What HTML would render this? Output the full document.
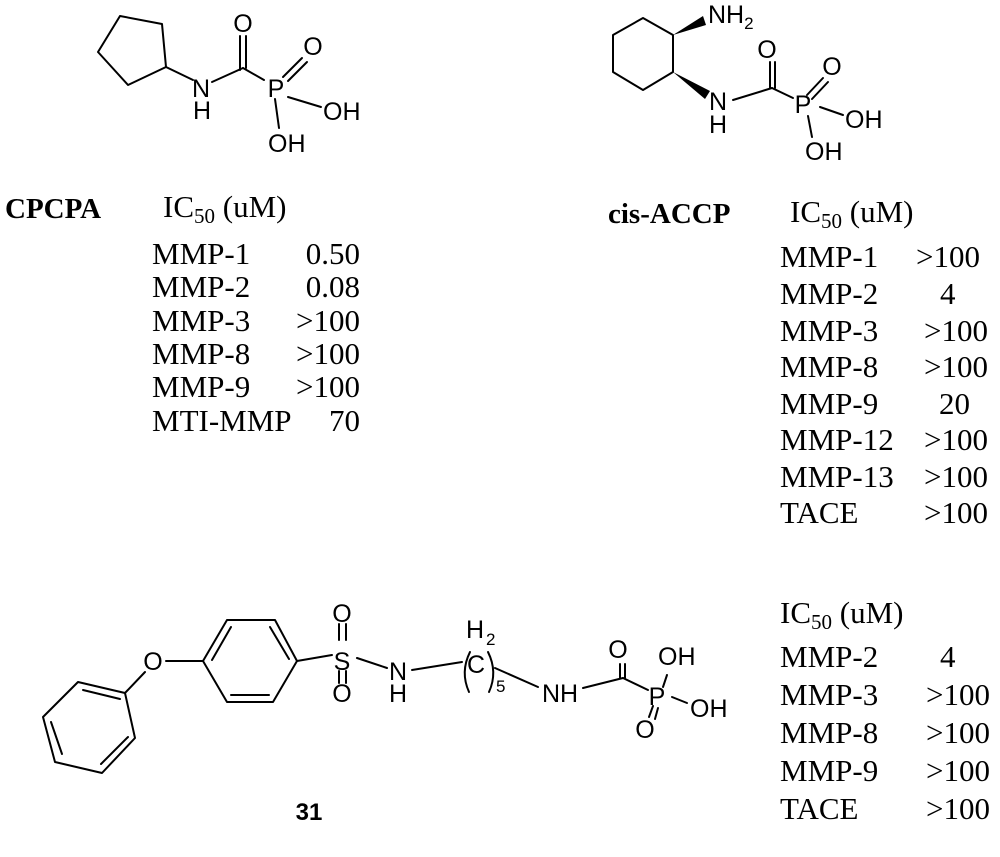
<!DOCTYPE html>
<html><head><meta charset="utf-8"><style>
html,body{margin:0;padding:0;background:#fff;}
svg{display:block;}
.a{font-family:"Liberation Sans",Arial,sans-serif;font-size:25px;fill:#000;}
.t{font-family:"Liberation Serif","Times New Roman",serif;font-size:31px;fill:#000;}
.b{font-family:"Liberation Serif","Times New Roman",serif;font-size:29px;font-weight:bold;fill:#000;}
.s{font-size:21px;}
</style></head><body>
<svg width="1000" height="857" viewBox="0 0 1000 857" xmlns="http://www.w3.org/2000/svg">
<g stroke="#000" stroke-width="2" fill="none" stroke-linecap="round" stroke-linejoin="round">
<!-- CPCPA -->
<polygon points="120,16 162,24 166,67 128,85 98,52"/>
<line x1="166" y1="67" x2="193" y2="80"/>
<line x1="212" y1="82" x2="243" y2="68"/>
<line x1="240" y1="70" x2="240" y2="36"/><line x1="246" y1="68" x2="246" y2="36"/>
<line x1="243" y1="68" x2="264" y2="80"/>
<line x1="283" y1="77" x2="302" y2="58"/><line x1="288" y1="81" x2="307" y2="62"/>
<line x1="288" y1="97" x2="321" y2="107"/>
<line x1="275" y1="99" x2="279" y2="128"/>
<!-- cis-ACCP -->
<polygon points="643,18 673,35 673,72 643,90 613,72 613,35"/>
<line x1="733" y1="100" x2="772" y2="88"/>
<line x1="770" y1="88" x2="770" y2="62"/><line x1="775" y1="88" x2="775" y2="62"/>
<line x1="772" y1="88" x2="793" y2="98"/>
<line x1="807" y1="95" x2="823" y2="78"/><line x1="812" y1="99" x2="828" y2="82"/>
<line x1="820" y1="107" x2="843" y2="115"/>
<line x1="808" y1="116" x2="812" y2="137"/>
<!-- 31 -->
<polygon points="78,682 43,717 55,762 102,773 135,738 125,693"/>
<line x1="83" y1="690" x2="120" y2="699"/>
<line x1="51" y1="722" x2="62" y2="754"/>
<line x1="101" y1="764" x2="128" y2="737"/>
<line x1="125" y1="693" x2="145" y2="672"/>
<line x1="166" y1="661" x2="203" y2="661"/>
<polygon points="203,661 227,620 275,620 297,661 273,702 227,702"/>
<line x1="212" y1="660" x2="231" y2="627"/>
<line x1="270" y1="627" x2="289" y2="659"/>
<line x1="231" y1="695" x2="269" y2="695"/>
<line x1="297" y1="661" x2="332" y2="655"/>
<line x1="339" y1="624" x2="339" y2="640"/><line x1="346" y1="624" x2="346" y2="640"/>
<line x1="339" y1="671" x2="339" y2="683"/><line x1="346" y1="671" x2="346" y2="683"/>
<line x1="357" y1="658" x2="387" y2="668"/>
<line x1="412" y1="670" x2="462" y2="662"/>
<path d="M470,652 Q460,672 469,692"/>
<path d="M488,652 Q498,672 489,692"/>
<line x1="495" y1="668" x2="538" y2="687"/>
<line x1="583" y1="688" x2="623" y2="678"/>
<line x1="620" y1="678" x2="620" y2="664"/><line x1="625" y1="678" x2="625" y2="664"/>
<line x1="623" y1="678" x2="648" y2="690"/>
<line x1="663" y1="687" x2="667" y2="675"/>
<line x1="672" y1="697" x2="687" y2="703"/>
<line x1="653" y1="706" x2="649" y2="717"/><line x1="658" y1="708" x2="655" y2="719"/>
</g>
<polygon points="673,35 703,16 706,25" fill="#000"/>
<polygon points="673,72 705,99 710,91" fill="#000"/>
<!-- atom labels -->
<g class="a" text-anchor="middle">
<text x="201" y="97">N</text><text x="202" y="119">H</text>
<text x="243" y="32">O</text>
<text x="276" y="97">P</text>
<text x="313" y="55">O</text>
<text x="718" y="110">N</text><text x="718" y="133">H</text>
<text x="767" y="58">O</text>
<text x="803" y="113">P</text>
<text x="832" y="75">O</text>
<text x="153" y="670">O</text>
<text x="342" y="670">S</text>
<text x="342" y="622">O</text>
<text x="342" y="702">O</text>
<text x="398" y="680">N</text><text x="398" y="702">H</text>
<text x="476" y="673">C</text>
<text x="475" y="638">H</text>
<text x="618" y="658">O</text>
<text x="657" y="705">P</text>
<text x="645" y="738">O</text>
</g>
<g class="a">
<text x="323" y="120">OH</text>
<text x="268" y="152">OH</text>
<text x="708" y="23">NH<tspan font-size="17" dy="6">2</tspan></text>
<text x="845" y="128">OH</text>
<text x="805" y="160">OH</text>
<text x="486" y="645" font-size="17">2</text>
<text x="496" y="692" font-size="17">5</text>
<text x="542" y="702">NH</text>
<text x="658" y="665">OH</text>
<text x="690" y="717">OH</text>
<text x="309" y="820" text-anchor="middle" font-weight="bold" font-size="24">31</text>
</g>
<!-- tables -->
<text class="b" x="5" y="218">CPCPA</text>
<text class="t" x="163" y="217">IC<tspan class="s" dy="6">50</tspan><tspan dy="-6"> (uM)</tspan></text>
<g class="t">
<text x="152" y="264">MMP-1</text><text x="360" y="264" text-anchor="end">0.50</text>
<text x="152" y="297">MMP-2</text><text x="360" y="297" text-anchor="end">0.08</text>
<text x="152" y="331">MMP-3</text><text x="360" y="331" text-anchor="end">&gt;100</text>
<text x="152" y="364">MMP-8</text><text x="360" y="364" text-anchor="end">&gt;100</text>
<text x="152" y="397">MMP-9</text><text x="360" y="397" text-anchor="end">&gt;100</text>
<text x="152" y="431">MTI-MMP</text><text x="360" y="431" text-anchor="end">70</text>
</g>
<text class="b" x="608" y="223">cis-ACCP</text>
<text class="t" x="790" y="222">IC<tspan class="s" dy="6">50</tspan><tspan dy="-6"> (uM)</tspan></text>
<g class="t">
<text x="780" y="267">MMP-1</text><text x="980" y="267" text-anchor="end">&gt;100</text>
<text x="780" y="304">MMP-2</text><text x="940" y="304">4</text>
<text x="780" y="341">MMP-3</text><text x="988" y="341" text-anchor="end">&gt;100</text>
<text x="780" y="377">MMP-8</text><text x="988" y="377" text-anchor="end">&gt;100</text>
<text x="780" y="414">MMP-9</text><text x="939" y="414">20</text>
<text x="780" y="450">MMP-12</text><text x="988" y="450" text-anchor="end">&gt;100</text>
<text x="780" y="487">MMP-13</text><text x="988" y="487" text-anchor="end">&gt;100</text>
<text x="780" y="523">TACE</text><text x="988" y="523" text-anchor="end">&gt;100</text>
</g>
<text class="t" x="780" y="623">IC<tspan class="s" dy="6">50</tspan><tspan dy="-6"> (uM)</tspan></text>
<g class="t">
<text x="780" y="667">MMP-2</text><text x="940" y="667">4</text>
<text x="780" y="705">MMP-3</text><text x="990" y="705" text-anchor="end">&gt;100</text>
<text x="780" y="743">MMP-8</text><text x="990" y="743" text-anchor="end">&gt;100</text>
<text x="780" y="781">MMP-9</text><text x="990" y="781" text-anchor="end">&gt;100</text>
<text x="780" y="819">TACE</text><text x="990" y="819" text-anchor="end">&gt;100</text>
</g>
</svg>
</body></html>
